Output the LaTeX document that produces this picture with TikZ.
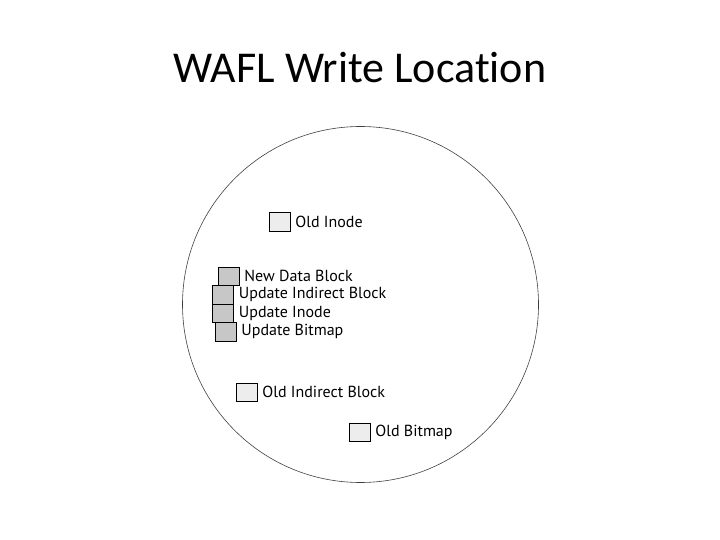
\documentclass[tikz,border=0pt]{standalone}
\usepackage{fontspec}
\setmainfont{PT Sans}
\newfontfamily\titlefont[Ligatures=NoCommon]{Carlito}
\usetikzlibrary{positioning}
\definecolor{oldgray}{gray}{0.93}
\definecolor{newgray}{gray}{0.78}
\definecolor{rimgray}{gray}{0.25}

\begin{document}
\begin{tikzpicture}[x=1pt, y=-1pt]
      \useasboundingbox (0,0) rectangle (720,540);
      \node[font=\titlefont\fontsize{44}{52}\selectfont] (title) at (360,68) {WAFL Write Location};
      \node[draw=rimgray, line width=0.6pt, circle, minimum size=356pt, inner sep=0pt] (disk) at (360.5,304.5) {};
      \begin{scope}[every node/.style = {font=\fontsize{16}{18}\selectfont}]
        \foreach \n/\x/\y/\c/\t in {OI/279.5/222/oldgray/Old Inode,
                                    ND/228.5/276/newgray/New Data Block,
                                    UB/223/294.5/newgray/Update Indirect Block,
                                    UI/223/313/newgray/Update Inode,
                                    UM/225.5/331.5/newgray/Update Bitmap,
                                    OB/246.5/392/oldgray/Old Indirect Block,
                                    OM/359.5/432/oldgray/Old Bitmap}{
          \node[anchor=center, draw=black, line width=0.5pt, fill=\c, minimum width=21pt, minimum height=18.5pt, inner sep=0pt] (B\n) at (\x,\y) {};
          \node[anchor=west, inner sep=0pt, right=5pt of B\n] (L\n) {\t};
        }
      \end{scope}
    \end{tikzpicture}
\end{document}
